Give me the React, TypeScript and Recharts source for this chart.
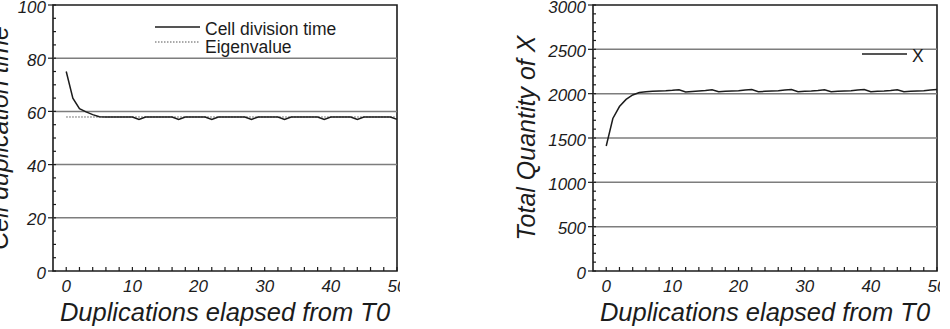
import React from "react"
import { LineChart, Line, XAxis, YAxis, ReferenceLine, ReferenceArea, Label, Legend } from "recharts"

// Left panel: cell duplication time per duplication step (0..50)
const cellDivisionTime = [
    75, 65, 61, 59.8, 58.8, 58, 57.9, 57.9, 57.9, 57.9,
    57.9, 57.0, 57.9, 57.9, 57.9, 57.9, 57.9, 57.0, 57.9, 57.9,
    57.9, 57.9, 57.0, 57.9, 57.9, 57.9, 57.9, 57.9, 57.0, 57.9,
    57.9, 57.9, 57.9, 57.0, 57.9, 57.9, 57.9, 57.9, 57.9, 57.0,
    57.9, 57.9, 57.9, 57.9, 57.0, 57.9, 57.9, 57.9, 57.9, 57.9,
    57.0,
]
const eigenvalue = 57.9

// Right panel: total quantity of X per duplication step (0..50)
const totalX = [
    1410, 1720, 1855, 1935, 1985, 2012, 2022, 2026, 2030, 2033,
    2038, 2045, 2020, 2025, 2030, 2036, 2045, 2022, 2026, 2030,
    2034, 2040, 2046, 2022, 2026, 2030, 2034, 2040, 2046, 2022,
    2026, 2030, 2036, 2045, 2022, 2026, 2030, 2034, 2040, 2046,
    2022, 2026, 2030, 2036, 2045, 2022, 2026, 2030, 2034, 2040,
    2046,
]

const xTicks = [0, 2, 4, 6, 8, 10, 12, 14, 16, 18, 20, 22, 24, 26, 28, 30, 32, 34, 36, 38, 40, 42, 44, 46, 48, 50]
const xLabels = [0, 10, 20, 30, 40, 50]

const leftYLabels = [0, 20, 40, 60, 80, 100]
const leftYTicks = [0, 5, 10, 15, 20, 25, 30, 35, 40, 45, 50, 55, 60, 65, 70, 75, 80, 85, 90, 95, 100]
const leftGrid = [20, 40, 60, 80]

const rightYLabels = [0, 500, 1000, 1500, 2000, 2500, 3000]
const rightYTicks = Array.from({ length: 31 }, (_, i) => i * 100)
const rightGrid = [500, 1000, 1500, 2000, 2500]

const leftLegend = [
    { name: "Cell division time", dash: undefined as string | undefined },
    { name: "Eigenvalue", dash: "1.5 1.5" },
]
const rightLegend = [{ name: "X", dash: undefined as string | undefined }]

const FONT = "'Liberation Sans', Arial, Helvetica, sans-serif"
const INK = "#1c1c1c"
const GRID = "#7d7d7d"

const leftData = cellDivisionTime.map((v, i) => ({ t: i, v }))
const rightData = totalX.map((v, i) => ({ t: i, v }))

function XTick(props: any) {
    const { x, y, payload } = props
    const v = payload.value
    return (
        <g>
            <line x1={x} x2={x} y1={y} y2={y - 4} stroke={INK} strokeWidth={1.2} />
            {xLabels.includes(v) && (
                <text x={x} y={y + 21} textAnchor="middle" fontStyle="italic" fontSize={17} fill={INK} fontFamily={FONT}>
                    {v}
                </text>
            )}
        </g>
    )
}

function makeYTick(labels: number[]) {
    return (props: any) => {
        const { x, y, payload } = props
        const v = payload.value
        const major = labels.includes(v)
        return (
            <g>
                <line x1={x} x2={x + 3} y1={y} y2={y} stroke={INK} strokeWidth={1.2} />
                {major && <line x1={x - 5} x2={x} y1={y} y2={y} stroke={INK} strokeWidth={1.2} />}
                {major && (
                    <text x={x - 7} y={y + 7.5} textAnchor="end" fontStyle="italic" fontSize={17} fill={INK} fontFamily={FONT}>
                        {v}
                    </text>
                )}
            </g>
        )
    }
}

function YTitle({ viewBox, text, offset }: any) {
    const cx = viewBox.x + offset
    const cy = viewBox.y + viewBox.height / 2
    return (
        <text
            x={cx}
            y={cy}
            transform={`rotate(-90 ${cx} ${cy})`}
            textAnchor="middle"
            fontStyle="italic"
            fontSize={25}
            fill={INK}
            fontFamily={FONT}
        >
            {text}
        </text>
    )
}

function XTitle({ viewBox }: any) {
    return (
        <text
            x={viewBox.x + viewBox.width / 2}
            y={viewBox.y + 50}
            textAnchor="middle"
            fontStyle="italic"
            fontSize={25.5}
            fill={INK}
            fontFamily={FONT}
        >
            Duplications elapsed from T0
        </text>
    )
}

function LegendBox({ items, width }: { items: typeof leftLegend; width: number }) {
    return (
        <svg width={width} height={20 * items.length + 12} style={{ display: "block", overflow: "visible" }}>
            {items.map((item, i) => (
                <g key={item.name}>
                    <line
                        x1={5}
                        x2={50}
                        y1={17 + i * 15}
                        y2={17 + i * 15}
                        stroke={item.dash ? "#555" : INK}
                        strokeWidth={item.dash ? 1 : 1.5}
                        strokeDasharray={item.dash}
                    />
                    <text x={55} y={25 + i * 17.5} fontSize={17.5} fill={INK} fontFamily={FONT}>
                        {item.name}
                    </text>
                </g>
            ))}
        </svg>
    )
}

export default function App() {
    return (
        <div style={{ position: "absolute", left: 0, top: 0, width: 950, height: 329, background: "#fff", overflow: "hidden" }}>
            <div style={{ position: "absolute", left: 0, top: 0, width: 400, height: 329, overflow: "hidden" }}>
                <LineChart width={400} height={329} data={leftData} margin={{ top: 5, right: 3, bottom: 0, left: 0 }}>
                    <XAxis
                        dataKey="t"
                        type="number"
                        domain={[-2, 50]}
                        ticks={xTicks}
                        interval={0}
                        height={58}
                        tickSize={0}
                        tickMargin={0}
                        tickLine={false}
                        axisLine={false}
                        tick={XTick}
                    >
                        <Label content={XTitle} />
                    </XAxis>
                    <YAxis
                        type="number"
                        domain={[0, 100]}
                        ticks={leftYTicks}
                        interval={0}
                        width={53}
                        tickSize={0}
                        tickMargin={0}
                        tickLine={false}
                        axisLine={false}
                        tick={makeYTick(leftYLabels)}
                    >
                        <Label content={(p: any) => <YTitle {...p} text="Cell duplication time" offset={8} />} />
                    </YAxis>
                    {leftGrid.map((g) => (
                        <ReferenceLine key={g} y={g} stroke={GRID} strokeWidth={1.5} />
                    ))}
                    <ReferenceLine
                        segment={[{ x: 0, y: eigenvalue }, { x: 50, y: eigenvalue }]}
                        stroke="#555"
                        strokeWidth={1}
                        strokeDasharray="1.5 1.5"
                    />
                    <ReferenceArea x1={-2} x2={50} y1={0} y2={100} fill="none" stroke={INK} strokeWidth={1.6} />
                    <Line dataKey="v" stroke={INK} strokeWidth={1.5} dot={false} isAnimationActive={false} type="linear" />
                    <Legend
                        layout="horizontal"
                        verticalAlign="middle"
                        align="center"
                        wrapperStyle={{ position: "absolute", left: 150, top: 10, width: 250 }}
                        content={() => <LegendBox items={leftLegend} width={250} />}
                    />
                </LineChart>
            </div>
            <div style={{ position: "absolute", left: 480, top: 0, width: 460, height: 329, overflow: "hidden" }}>
                <LineChart width={460} height={329} data={rightData} margin={{ top: 5, right: 3, bottom: 0, left: 0 }}>
                    <XAxis
                        dataKey="t"
                        type="number"
                        domain={[-2, 50]}
                        ticks={xTicks}
                        interval={0}
                        height={58}
                        tickSize={0}
                        tickMargin={0}
                        tickLine={false}
                        axisLine={false}
                        tick={XTick}
                    >
                        <Label content={XTitle} />
                    </XAxis>
                    <YAxis
                        type="number"
                        domain={[0, 3000]}
                        ticks={rightYTicks}
                        interval={0}
                        width={113}
                        tickSize={0}
                        tickMargin={0}
                        tickLine={false}
                        axisLine={false}
                        tick={makeYTick(rightYLabels)}
                    >
                        <Label content={(p: any) => <YTitle {...p} text="Total Quantity of X" offset={55} />} />
                    </YAxis>
                    {rightGrid.map((g) => (
                        <ReferenceLine key={g} y={g} stroke={GRID} strokeWidth={1.5} />
                    ))}
                    <ReferenceArea x1={-2} x2={50} y1={0} y2={3000} fill="none" stroke={INK} strokeWidth={1.6} />
                    <Line dataKey="v" stroke={INK} strokeWidth={1.5} dot={false} isAnimationActive={false} type="linear" />
                    <Legend
                        layout="horizontal"
                        verticalAlign="middle"
                        align="center"
                        wrapperStyle={{ position: "absolute", left: 377, top: 37, width: 80 }}
                        content={() => <LegendBox items={rightLegend} width={80} />}
                    />
                </LineChart>
            </div>
        </div>
    )
}
